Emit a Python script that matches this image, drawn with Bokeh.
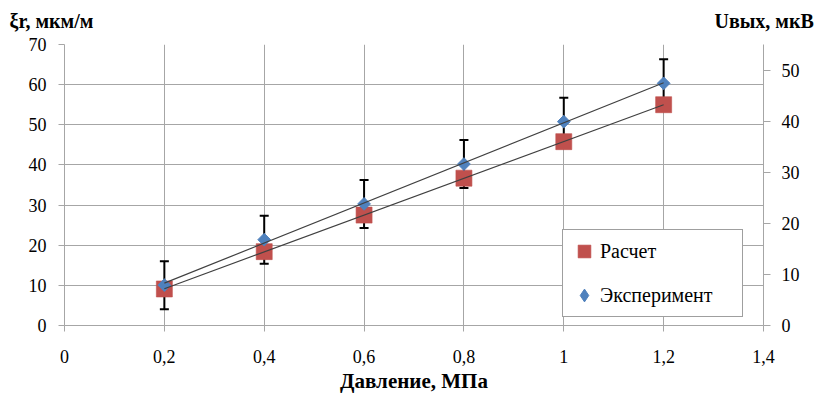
import numpy as np
from bokeh.plotting import figure
from bokeh.models import (Range1d, LinearAxis, FixedTicker, Legend, LegendItem, Label)
from bokeh.embed import file_html
from bokeh.resources import INLINE

# ---- data ----
pressure = [0.2, 0.4, 0.6, 0.8, 1.0, 1.2]
calc_xi = [9.1, 18.4, 27.5, 36.7, 45.8, 55.0]          # left axis, мкм/м
exp_u = [7.9, 16.8, 23.8, 31.6, 39.9, 47.4]             # right axis, мкВ
exp_err = [4.7, 4.7, 4.7, 4.7, 4.7, 4.7]

x_ticks = [0, 0.2, 0.4, 0.6, 0.8, 1.0, 1.2, 1.4]
x_tick_labels = ["0", "0,2", "0,4", "0,6", "0,8", "1", "1,2", "1,4"]
left_ticks = [0, 10, 20, 30, 40, 50, 60, 70]
right_ticks = [0, 10, 20, 30, 40, 50]

FONT = "Liberation Serif"
GRID = "#A6A6A6"
RED = "#C0504D"
BLUE = "#4F81BD"
HDR_H = 32

# header strip holding the two axis titles
hdr = figure(width=818, height=HDR_H, output_backend="svg", toolbar_location=None,
             x_axis_type=None, y_axis_type=None, min_border=0,
             x_range=Range1d(0, 1), y_range=Range1d(0, 1))
hdr.outline_line_color = None
hdr.grid.visible = False
hdr.add_layout(Label(x=9, y=1, x_units="screen", y_units="screen", text="ξr, мкм/м",
                     text_font=FONT, text_font_size="20px", text_font_style="bold",
                     text_color="black", text_align="left", text_baseline="bottom"))
hdr.add_layout(Label(x=714, y=1, x_units="screen", y_units="screen", text="Uвых, мкВ",
                     text_font=FONT, text_font_size="20px", text_font_style="bold",
                     text_color="black", text_align="left", text_baseline="bottom"))

p = figure(width=818, height=400 - HDR_H, output_backend="svg", toolbar_location=None,
           x_range=Range1d(0, 1.4), y_range=Range1d(0, 70),
           min_border_left=64, min_border_right=55, min_border_top=44 - HDR_H,
           min_border_bottom=75)
p.extra_y_ranges = {"u": Range1d(0, 55)}
p.outline_line_color = None
p.background_fill_color = "white"

# axes
for ax in [p.xaxis[0], p.yaxis[0]]:
    ax.axis_line_color = GRID
    ax.major_tick_line_color = GRID
    ax.major_tick_in = 0
    ax.major_tick_out = 6
    ax.minor_tick_line_color = None
    ax.major_label_text_font = FONT
    ax.major_label_text_font_size = "18px"
    ax.major_label_text_color = "black"

p.xaxis[0].ticker = FixedTicker(ticks=x_ticks)
p.xaxis[0].major_label_overrides = dict(zip(x_ticks, x_tick_labels))
p.xaxis[0].major_label_standoff = 18
p.xaxis[0].axis_label = "Давление, МПа"
p.xaxis[0].axis_label_text_font = FONT
p.xaxis[0].axis_label_text_font_size = "21px"
p.xaxis[0].axis_label_text_font_style = "bold"
p.xaxis[0].axis_label_text_color = "black"
p.xaxis[0].axis_label_standoff = 3

p.yaxis[0].ticker = FixedTicker(ticks=left_ticks)
p.yaxis[0].major_label_standoff = 12

ry = LinearAxis(y_range_name="u", ticker=FixedTicker(ticks=right_ticks))
ry.axis_line_color = GRID
ry.major_tick_line_color = GRID
ry.major_tick_in = 0
ry.major_tick_out = 7
ry.minor_tick_line_color = None
ry.major_label_text_font = FONT
ry.major_label_text_font_size = "18px"
ry.major_label_text_color = "black"
ry.major_label_standoff = 11
p.add_layout(ry, "right")

p.xgrid.grid_line_color = GRID
p.ygrid.grid_line_color = GRID
p.xgrid.ticker = FixedTicker(ticks=x_ticks)
p.ygrid.ticker = FixedTicker(ticks=left_ticks)

# error bars (experiment, right axis)
x = np.array(pressure)
eu = np.array(exp_u)
ee = np.array(exp_err)
p.segment(x0=x, y0=eu - ee, x1=x, y1=eu + ee, line_color="black", line_width=2, y_range_name="u")
p.scatter(x=x, y=eu + ee, marker="dash", size=9, line_color="black", line_width=2, y_range_name="u")
p.scatter(x=x, y=eu - ee, marker="dash", size=9, line_color="black", line_width=2, y_range_name="u")

# markers
r_calc = p.scatter(x=pressure, y=calc_xi, marker="square", size=16,
                   fill_color=RED, line_color=RED, line_alpha=0.6)
# diamond-shaped copy (hidden under the rotated squares) that gives the legend its diamond
r_exp_leg = p.scatter(x=pressure, y=exp_u, marker="diamond", size=8,
                      fill_color=BLUE, line_color=BLUE, y_range_name="u")
p.scatter(x=pressure, y=exp_u, marker="square", angle=np.pi / 4, size=9,
          fill_color=BLUE, line_color=BLUE, y_range_name="u")

# linear trend lines
kc, bc = np.polyfit(x, np.array(calc_xi), 1)
ke, be = np.polyfit(x, eu, 1)
xt = np.array([pressure[0], pressure[-1]])
p.line(xt, kc * xt + bc, line_color="#404040", line_width=1.2)
p.line(xt, ke * xt + be, line_color="#404040", line_width=1.2, y_range_name="u")

# legend
legend = Legend(items=[LegendItem(label="Расчет", renderers=[r_calc]),
                       LegendItem(label="Эксперимент", renderers=[r_exp_leg])],
                location=(498, 8), orientation="vertical",
                padding=5, spacing=12, glyph_width=32, glyph_height=32,
                label_standoff=0, label_width=137,
                label_text_font=FONT, label_text_font_size="20px", label_text_color="black",
                border_line_color="#404040", border_line_width=1,
                background_fill_color="white", background_fill_alpha=1.0, margin=0)
p.add_layout(legend, "center")

open("out.html", "w").write(file_html([hdr, p], INLINE))
